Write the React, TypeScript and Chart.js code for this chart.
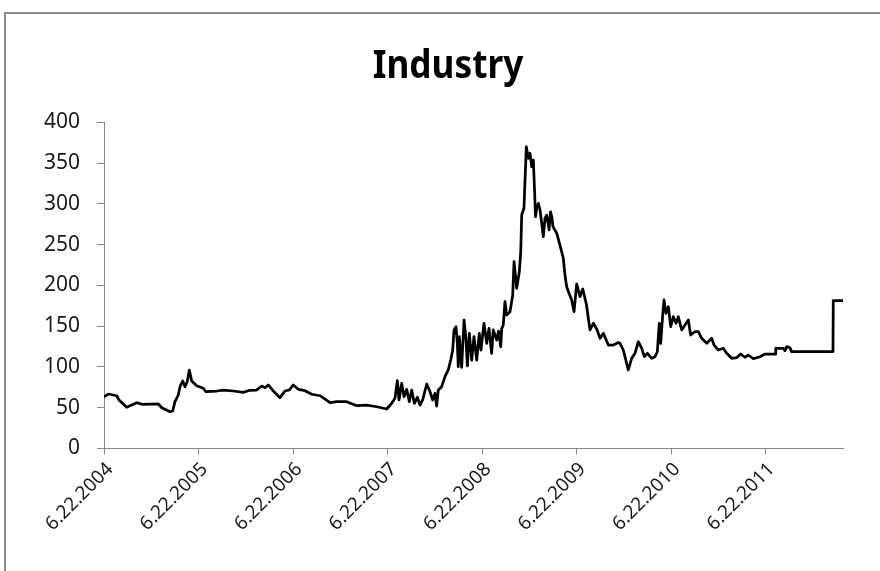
import React, { useEffect, useRef } from "react";
import { Chart, registerables } from "chart.js";

Chart.register(...registerables);

// Years elapsed since 6.22.2004
const xYears: number[] = [
  0, 0.046, 0.134, 0.159, 0.24, 0.293, 0.346, 0.399, 0.575, 0.611,
  0.698, 0.727, 0.751, 0.786, 0.804, 0.833, 0.857, 0.881, 0.903, 0.928,
  0.981, 1.051, 1.079, 1.193, 1.263, 1.368, 1.474, 1.545, 1.616, 1.669,
  1.704, 1.739, 1.792, 1.862, 1.915, 1.96, 2.003, 2.056, 2.127, 2.198,
  2.286, 2.392, 2.463, 2.568, 2.674, 2.78, 2.886, 2.992, 3.044, 3.079,
  3.104, 3.122, 3.15, 3.175, 3.203, 3.231, 3.256, 3.284, 3.315, 3.344,
  3.372, 3.415, 3.45, 3.478, 3.503, 3.52, 3.537, 3.573, 3.608, 3.643,
  3.669, 3.69, 3.704, 3.725, 3.739, 3.749, 3.76, 3.785, 3.81, 3.831,
  3.845, 3.866, 3.891, 3.915, 3.944, 3.971, 3.989, 4.021, 4.05, 4.074,
  4.102, 4.119, 4.156, 4.175, 4.198, 4.209, 4.225, 4.243, 4.261, 4.296,
  4.325, 4.339, 4.367, 4.395, 4.41, 4.42, 4.444, 4.469, 4.49, 4.508,
  4.526, 4.543, 4.556, 4.566, 4.58, 4.596, 4.614, 4.63, 4.649, 4.667,
  4.685, 4.702, 4.71, 4.725, 4.74, 4.751, 4.77, 4.791, 4.825, 4.86,
  4.878, 4.896, 4.921, 4.949, 4.974, 5.002, 5.037, 5.066, 5.106, 5.125,
  5.143, 5.178, 5.214, 5.249, 5.284, 5.337, 5.389, 5.442, 5.46, 5.495,
  5.548, 5.584, 5.619, 5.654, 5.69, 5.718, 5.749, 5.796, 5.831, 5.855,
  5.876, 5.891, 5.912, 5.926, 5.947, 5.972, 5.997, 6.024, 6.053, 6.077,
  6.113, 6.148, 6.183, 6.208, 6.254, 6.289, 6.325, 6.378, 6.43, 6.455,
  6.5, 6.553, 6.589, 6.642, 6.695, 6.737, 6.783, 6.818, 6.871, 6.942,
  6.995, 7.104, 7.108, 7.188, 7.206, 7.225, 7.259, 7.277, 7.714, 7.717,
  7.82,
];

const industry: number[] = [
  63, 66.6, 64.5, 59.3, 50.3, 53.1, 56, 54, 54.4, 49.8,
  44.9, 45.8, 57.2, 65.4, 75.6, 82.6, 75.6, 81.7, 96, 82.6,
  76.8, 73.6, 69.4, 70.3, 71.5, 70.3, 68.7, 71.2, 71.5, 76.4,
  74.4, 77.7, 70.3, 62.1, 70.3, 71.5, 77.7, 72.4, 70.7, 66.3,
  64.5, 56, 57.2, 57.2, 52.3, 53.1, 51, 48.2, 55.2, 61.3,
  83, 59.3, 79.8, 63.3, 72.4, 57.2, 71.5, 55.2, 62.6, 53.1,
  59.3, 78.9, 69.4, 59.3, 67.5, 51.9, 71.5, 75.6, 87.9, 96.1,
  108.3, 120.6, 145.2, 149.2, 128.8, 100.1, 136.9, 99.4, 157.4, 132.9,
  101, 141.1, 108.3, 136.9, 108.3, 141.1, 120.6, 153.4, 128.8, 147.2,
  116.6, 145.2, 132.9, 143.9, 124.7, 147.2, 151.3, 179.9, 163.6, 167.6,
  188.1, 229, 196.3, 216.7, 241.2, 286.3, 294.5, 370, 355.8, 362,
  345.5, 353.7, 316.9, 284.2, 295, 300.6, 292.4, 278, 259.6, 282.6,
  286, 274, 268, 290, 283, 271.9, 268, 263.8, 249.4, 233.5,
  212.6, 198.3, 190.2, 182, 167.6, 201.6, 186, 195.5, 175.8, 159.5,
  145.2, 153.4, 146.4, 135, 141.1, 126.7, 126.7, 129.8, 128.8, 120.6,
  96.1, 110.4, 116.6, 130.8, 122.7, 112.4, 116.6, 110.4, 112.4, 118.5,
  153.4, 128.8, 163.6, 182, 165.6, 173.7, 149.2, 161.5, 153.4, 161.5,
  145.2, 151.3, 157.4, 139, 143.1, 143.1, 135, 128.8, 135, 126.7,
  120.6, 122.7, 116.6, 110.4, 111.2, 115.7, 111.7, 114.5, 109.9, 112.4,
  115.7, 115.7, 122.7, 122.7, 119.8, 124.7, 123.4, 118.5, 118.5, 181.3,
  181.3,
];

const tickYears: number[] = [2004, 2005, 2006, 2007, 2008, 2009, 2010, 2011];
const tickPrefix = "6.22.";
const xMax = 7.82;
const yTicks: number[] = [0, 50, 100, 150, 200, 250, 300, 350, 400];
const chartTitle = "Industry";

const FONT = "'Noto Sans', 'Open Sans', sans-serif";
const AXIS = "#868686";

export default function App() {
  const ref = useRef<HTMLCanvasElement | null>(null);

  useEffect(() => {
    if (!ref.current) return;
    const points = xYears.map((x, i) => ({ x, y: industry[i] }));
    const chart = new Chart(ref.current, {
      type: "line",
      data: {
        datasets: [
          {
            label: chartTitle,
            data: points,
            borderColor: "#000",
            borderWidth: 2.75,
            borderJoinStyle: "round",
            pointRadius: 0,
            tension: 0,
            fill: false,
          },
        ],
      },
      options: {
        animation: false,
        responsive: false,
        maintainAspectRatio: false,
        layout: { padding: { left: 0, right: 37, top: 122.3, bottom: 0 } },
        plugins: {
          legend: { display: false },
          tooltip: { enabled: false },
          title: { display: false },
        },
        scales: {
          x: {
            type: "linear",
            min: 0,
            max: xMax,
            afterBuildTicks: (scale: any) => {
              scale.ticks = tickYears.map((_, i) => ({ value: i }));
            },
            afterFit: (scale: any) => {
              scale.height = 571 - 448.3;
            },
            ticks: {
              autoSkip: false,
              minRotation: 45,
              maxRotation: 45,
              padding: 4,
              labelOffset: 6,
              color: "#1a1a1a",
              font: { family: FONT, size: 19 },
              callback: (v: any) => tickPrefix + tickYears[Math.round(Number(v))],
            },
            grid: { drawOnChartArea: false, drawTicks: true, tickLength: 6, color: AXIS },
            border: { display: true, color: AXIS, width: 1 },
          },
          y: {
            min: 0,
            max: 400,
            afterBuildTicks: (scale: any) => {
              scale.ticks = yTicks.map((v) => ({ value: v }));
            },
            afterFit: (scale: any) => {
              scale.width = 104;
            },
            ticks: {
              padding: 17,
              color: "#1a1a1a",
              font: { family: FONT, size: 21 },
            },
            grid: { drawOnChartArea: false, drawTicks: true, tickLength: 7, color: AXIS },
            border: { display: true, color: AXIS, width: 1 },
          },
        },
      },
    });
    return () => chart.destroy();
  }, []);

  return (
    <div
      style={{
        position: "fixed",
        left: 0,
        top: 0,
        width: 880,
        height: 571,
        overflow: "hidden",
        background: "#fff",
      }}
    >
      <div
        style={{
          position: "absolute",
          left: 4,
          top: 12,
          width: 900,
          height: 600,
          border: "2px solid #8c8c8c",
          boxSizing: "border-box",
        }}
      />
      <canvas ref={ref} width={880} height={571} style={{ position: "absolute", left: 0, top: 0 }} />
      <div
        style={{
          position: "absolute",
          left: 448,
          top: 42.5,
          transform: "translateX(-50%) scaleX(0.88)",
          fontFamily: FONT,
          fontWeight: 700,
          fontSize: 40,
          lineHeight: 1,
          color: "#000",
          whiteSpace: "nowrap",
        }}
      >
        {chartTitle}
      </div>
    </div>
  );
}
